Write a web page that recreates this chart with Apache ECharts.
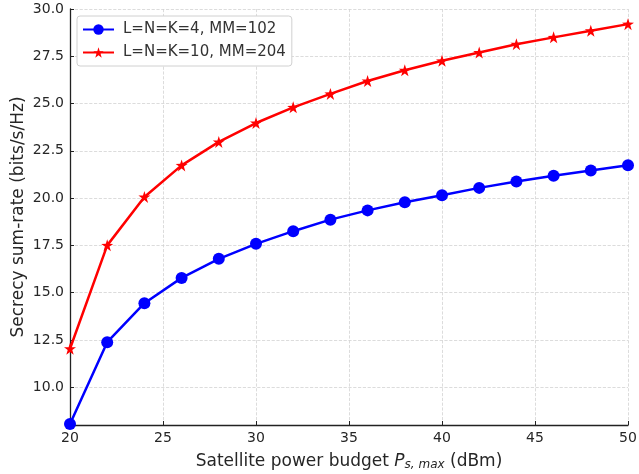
<!DOCTYPE html>
<html lang="en">
<head>
    <meta charset="UTF-8">
    <title>Secrecy sum-rate</title>
    <script src="https://cdn.jsdelivr.net/npm/echarts@6/dist/echarts.min.js"></script>
</head>
<body style="margin:0">
<div id="main" style="width:639px;height:474px"></div>
<script type="text/javascript">
    var power = [20, 22, 24, 26, 28, 30, 32, 34, 36, 38, 40, 42, 44, 46, 48, 50];
    var rateSmall = [8.05, 12.38, 14.44, 15.78, 16.79, 17.58, 18.25, 18.86, 19.35, 19.78, 20.15, 20.54, 20.88, 21.18, 21.46, 21.74];
    var rateLarge = [12.03, 17.5, 20.06, 21.73, 22.97, 23.97, 24.8, 25.51, 26.19, 26.76, 27.26, 27.7, 28.14, 28.5, 28.85, 29.2];
    var yTicks = [10, 12.5, 15, 17.5, 20, 22.5, 25, 27.5, 30];
    var names = ['L=N=K=4, MM=102', 'L=N=K=10, MM=204'];

    function pairs(ys) {
        return power.map(function (x, i) { return [x, ys[i]]; });
    }

    var myChart = echarts.init(document.getElementById('main'));
    var font = 'DejaVu Sans';
    var option = {
        animation: false,
        textStyle: { fontFamily: font },
        grid: { left: 70, right: 11, top: 9, bottom: 49, containLabel: false, outerBoundsMode: 'none' },
        legend: {
            orient: 'vertical',
            left: 77, top: 16,
            padding: [6, 6, 6, 5],
            itemGap: 8,
            itemWidth: 31, itemHeight: 13,
            backgroundColor: '#fff',
            borderColor: '#d0d0d0', borderWidth: 1, borderRadius: 3,
            textStyle: { fontSize: 15, color: '#333', fontFamily: font, padding: [0, 0, 0, 4] },
            data: names
        },
        xAxis: {
            type: 'value',
            min: 20, max: 50, interval: 5,
            name: 'Satellite power budget {i|P}{s|s, max} (dBm)',
            nameLocation: 'middle',
            nameGap: 28,
            nameTextStyle: {
                fontSize: 17, color: '#262626', fontFamily: font,
                rich: {
                    i: { fontSize: 17, fontStyle: 'italic', color: '#262626', fontFamily: font },
                    s: { fontSize: 12, fontStyle: 'italic', color: '#262626', fontFamily: font, padding: [6, 0, 0, 0] }
                }
            },
            axisLine: { lineStyle: { color: '#222', width: 1.3 } },
            axisTick: { inside: true, length: 4, lineStyle: { color: '#222' } },
            axisLabel: { fontSize: 14, color: '#262626', margin: 6 },
            splitLine: { lineStyle: { color: '#d3d3d3', type: 'dashed', width: 0.8 } }
        },
        yAxis: {
            type: 'value',
            min: 8, max: 30,
            name: 'Secrecy sum-rate (bits/s/Hz)',
            nameLocation: 'middle',
            nameGap: 43,
            nameMoveOverlap: false,
            nameTextStyle: { fontSize: 17, color: '#262626', fontFamily: font },
            axisLine: { show: true, lineStyle: { color: '#222', width: 1.3 } },
            axisTick: { show: true, inside: true, length: 4, customValues: yTicks, lineStyle: { color: '#222' } },
            axisLabel: {
                fontSize: 14, color: '#262626', margin: 6,
                customValues: yTicks,
                formatter: function (v) { return v.toFixed(1); }
            },
            splitLine: { lineStyle: { color: '#d3d3d3', type: 'dashed', width: 0.8 } }
        },
        series: [
            {
                name: names[0],
                type: 'line',
                data: pairs(rateSmall),
                symbol: 'circle', symbolSize: 12,
                color: '#0000ff',
                lineStyle: { width: 2.5, color: '#0000ff' },
                itemStyle: { color: '#0000ff' }
            },
            {
                name: names[1],
                type: 'line',
                data: pairs(rateLarge),
                symbol: 'path://M50,0 L61.8,35.4 L100,36.2 L69.1,57.3 L80.9,95.1 L50,72.4 L19.1,95.1 L30.9,57.3 L0,36.2 L38.2,35.4 Z',
                symbolSize: 12,
                color: '#ff0000',
                lineStyle: { width: 2.5, color: '#ff0000' },
                itemStyle: { color: '#ff0000' }
            }
        ]
    };
    myChart.setOption(option);
</script>
</body>
</html>
